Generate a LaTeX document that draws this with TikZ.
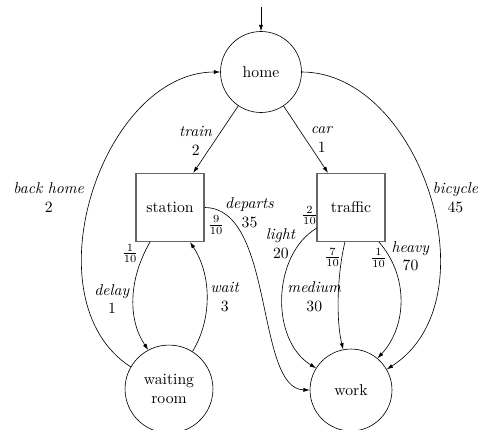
\documentclass[tikz,border=0pt]{standalone}
\usepackage{amsmath}
\usepackage{tikz}
\usetikzlibrary{arrows.meta}

\begin{document}
\begin{tikzpicture}[x=0.637pt, y=-0.637pt, >={Latex[length=4pt,width=2.6pt]},
        place/.style = {circle, draw, inner sep=0pt, align=center},
        stop/.style = {rectangle, draw=black!60, line width=0.8pt, minimum size=43.3pt},
        act/.style = {align=center, inner sep=2pt}]
    \useasboundingbox (0,0) rectangle (484,429);

    \node [place, minimum size=51.6pt] (home) at (261,72) {home};
    \node [stop] (station) at (170,207.5) {station};
    \node [stop] (traffic) at (351,207.5) {traffic};
    \node [place, minimum size=56pt] (waiting) at (169,389) {waiting\\room};
    \node [place, minimum size=52.2pt] (work) at (351,390) {work};
    \coordinate (start) at (261,7);

    \draw [->] (start) -- (home);
    \draw [->] (home) -- (station)
        node [act, midway, left, yshift=-1pt] {\textit{train}\\2};
    \draw [->] (home) -- (traffic)
        node [act, midway, right, xshift=1pt] {\textit{car}\\1};

    % station and waiting room
    \draw [->] (station.240) .. controls (128,280) and (128,320) .. (waiting.118)
        node [act, pos=0.1, left, xshift=-1.5pt] {$\frac{1}{10}$}
        node [act, midway, left] {\textit{delay}\\1};
    \draw [->] (waiting.58) .. controls (212,320) and (212,275) .. (station.300)
        node [act, midway, right] {\textit{wait}\\3};
    \draw [->] (waiting.150) .. controls (27,300) and (102,72) .. (home.west)
        node [act, midway, left, xshift=-3pt, yshift=-2pt] {\textit{back home}\\2};
    \draw [->] (station.east) .. controls (275,208) and (255,389) .. (work.west)
        node [act, pos=0, anchor=north west, yshift=-3pt] {$\frac{9}{10}$}
        node [act, pos=0.1, right, xshift=-1pt] {\textit{departs}\\35};

    % traffic
    \draw [->] (traffic.211) .. controls (272,255) and (270,340) .. (work.148)
        node [act, pos=0, above left, xshift=3pt] {$\frac{2}{10}$}
        node [act, pos=0.15, left] {\textit{light}\\20};
    \draw [->] (traffic.260) .. controls (337,275) and (336,320) .. (work.101)
        node [act, pos=0.15, left, xshift=1.5pt] {$\frac{7}{10}$}
        node [act, midway, left, xshift=4pt] {\textit{medium}\\30};
    \draw [->] (traffic.309) .. controls (408,275) and (408,325) .. (work.50)
        node [act, pos=0.15, left] {$\frac{1}{10}$}
        node [act, pos=0.12, right, yshift=-1pt] {\textit{heavy}\\70};
    \draw [->] (home.east) .. controls (420,72) and (495,300) .. (work.30)
        node [act, midway, right, yshift=-2pt] {\textit{bicycle}\\45};
\end{tikzpicture}
\end{document}
